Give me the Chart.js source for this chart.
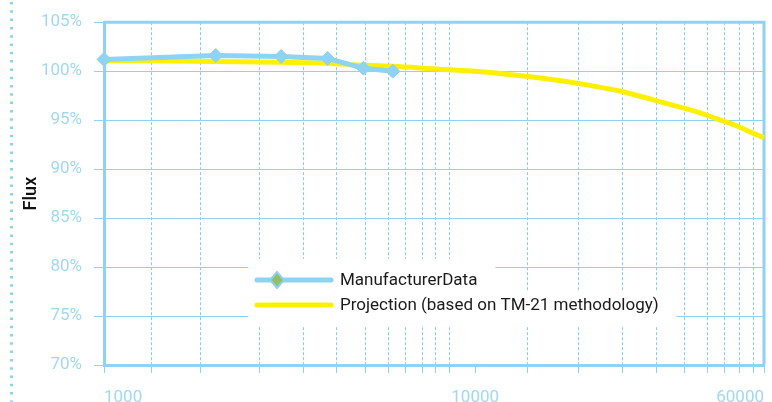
<!DOCTYPE html>
<html lang="en">
<head>
<meta charset="UTF-8">
<title>Flux projection</title>
<script src="https://cdn.jsdelivr.net/npm/chart.js"></script>
<style>
    html, body { margin: 0; padding: 0; background: #fff; }
    #wrap { width: 772px; height: 402px; }
</style>
</head>
<body>
<div id="wrap"><canvas id="fluxChart" width="772" height="402"></canvas></div>
<script>
// manufacturer measurements (hours, flux %)
const measuredHours = [1000, 2000, 3000, 4000, 5000, 6000];
const measuredFlux = [101.2, 101.6, 101.5, 101.3, 100.3, 100.0];

// TM-21 projection
const projectionHours = [1000, 2000, 3000, 4000, 5000, 6000, 8000, 10000, 15000, 20000, 25000, 30000, 35000, 40000, 45000, 50000, 55000, 60000];
const projectionFlux = [101.1, 101.0, 100.9, 100.8, 100.6, 100.5, 100.2, 100.0, 99.3, 98.6, 97.9, 97.1, 96.4, 95.8, 95.1, 94.5, 93.8, 93.2];

const seriesNames = ['ManufacturerData', 'Projection (based on TM-21 methodology)'];

// axis ticks
const gridHours = [1340, 1820, 2620, 3440, 4240, 5070, 5850, 6490, 7210, 7810, 8510, 13800, 19000, 24900, 30800, 36600, 42200, 47100, 51600, 56300];
const labelHours = [1000, 10000, 60000];
const fluxTicks = [70, 75, 80, 85, 90, 95, 100, 105];

const blue = '#8dd3f3';
const yellow = '#fff000';
const tickText = '#9fd9f5';
const tickFont = { family: 'Roboto, sans-serif', size: 17 };

// white background, dotted rule at left, top/right frame
const framePlugin = {
    id: 'frame',
    beforeDraw(chart) {
        const ctx = chart.ctx;
        ctx.save();
        ctx.fillStyle = '#fff';
        ctx.fillRect(0, 0, chart.width, chart.height);
        ctx.strokeStyle = blue;
        ctx.lineWidth = 3;
        ctx.setLineDash([2.5, 5.8]);
        ctx.beginPath();
        ctx.moveTo(11.5, 2);
        ctx.lineTo(11.5, chart.height);
        ctx.stroke();
        ctx.restore();
    },
    beforeDatasetsDraw(chart) {
        const a = chart.chartArea;
        const ctx = chart.ctx;
        ctx.save();
        ctx.strokeStyle = blue;
        ctx.lineWidth = 3;
        ctx.beginPath();
        ctx.moveTo(a.left, a.top);
        ctx.lineTo(a.right, a.top);
        ctx.lineTo(a.right, a.bottom);
        ctx.stroke();
        ctx.restore();
    }
};

// legend sitting inside the plot, each row on its own white box
const legendPlugin = {
    id: 'insetLegend',
    afterDraw(chart) {
        const ctx = chart.ctx;
        const a = chart.chartArea;
        const left = a.left + 144;
        const top = a.bottom - 106;
        const boxH = 33;
        const lineY = [top + 21, top + 46];
        ctx.save();
        ctx.font = '17px Roboto';
        ctx.textBaseline = 'middle';
        chart.data.datasets.forEach((ds, i) => {
            const textX = left + 92;
            const w = ctx.measureText(ds.label).width;
            ctx.fillStyle = '#fff';
            ctx.fillRect(left, top + boxH * i, textX - left + w + 18, boxH);
        });
        chart.data.datasets.forEach((ds, i) => {
            const y = lineY[i];
            const textX = left + 92;
            ctx.strokeStyle = ds.borderColor;
            ctx.lineWidth = 5;
            ctx.lineCap = 'round';
            ctx.beginPath();
            ctx.moveTo(left + 9, y);
            ctx.lineTo(left + 83, y);
            ctx.stroke();
            if (i === 0) {
                const cx = left + 29;
                ctx.beginPath();
                ctx.moveTo(cx, y - 8);
                ctx.lineTo(cx + 7, y);
                ctx.lineTo(cx, y + 8);
                ctx.lineTo(cx - 7, y);
                ctx.closePath();
                ctx.fillStyle = '#93c061';
                ctx.fill();
                ctx.lineWidth = 2;
                ctx.strokeStyle = blue;
                ctx.stroke();
            }
            ctx.fillStyle = '#1a1a1a';
            ctx.fillText(ds.label, textX, y + 1);
        });
        ctx.restore();
    }
};

new Chart(document.getElementById('fluxChart'), {
    type: 'line',
    data: {
        datasets: [{
            label: seriesNames[0],
            data: measuredHours.map((h, i) => ({ x: h, y: measuredFlux[i] })),
            borderColor: blue,
            backgroundColor: blue,
            borderWidth: 5,
            pointStyle: 'rectRot',
            pointRadius: 7,
            pointBackgroundColor: blue,
            pointBorderColor: blue,
            pointBorderWidth: 1,
            clip: false
        }, {
            label: seriesNames[1],
            data: projectionHours.map((h, i) => ({ x: h, y: projectionFlux[i] })),
            borderColor: yellow,
            backgroundColor: yellow,
            borderWidth: 5,
            pointRadius: 0,
            cubicInterpolationMode: 'monotone',
            clip: false
        }]
    },
    options: {
        responsive: false,
        animation: false,
        devicePixelRatio: 1,
        layout: { padding: { top: 22, right: 4, left: 0, bottom: 0 } },
        plugins: {
            legend: { display: false },
            tooltip: { enabled: false }
        },
        scales: {
            x: {
                type: 'logarithmic',
                min: 1000,
                max: 60000,
                afterBuildTicks: s => {
                    s.ticks = [...gridHours, ...labelHours].sort((a, b) => a - b).map(v => ({ value: v }));
                },
                afterFit: s => {
                    s.height = 37;
                    s.paddingLeft = 0;
                    s.paddingRight = 0;
                },
                ticks: {
                    autoSkip: false,
                    maxRotation: 0,
                    align: 'inner',
                    padding: 15,
                    color: tickText,
                    font: tickFont,
                    callback: v => labelHours.includes(v) ? String(v) : ''
                },
                grid: {
                    color: c => (c.tick && c.tick.value === 10000) ? 'rgba(0,0,0,0)' : '#84cff1',
                    lineWidth: 1,
                    tickLength: 8,
                    tickColor: blue
                },
                border: { color: blue, width: 3, dash: [3, 2] }
            },
            y: {
                min: 70,
                max: 105,
                afterBuildTicks: s => { s.ticks = fluxTicks.map(v => ({ value: v })); },
                afterFit: s => { s.width = 104; },
                ticks: {
                    padding: 12,
                    color: tickText,
                    font: tickFont,
                    callback: v => v + '%'
                },
                grid: { color: blue, lineWidth: 1, tickLength: 10 },
                border: { color: blue, width: 3 },
                title: {
                    display: true,
                    text: 'Flux',
                    color: '#111',
                    font: { family: 'Roboto', size: 18, weight: '500' },
                    padding: { top: 21, bottom: 0 }
                }
            }
        }
    },
    plugins: [framePlugin, legendPlugin]
});
</script>
</body>
</html>
